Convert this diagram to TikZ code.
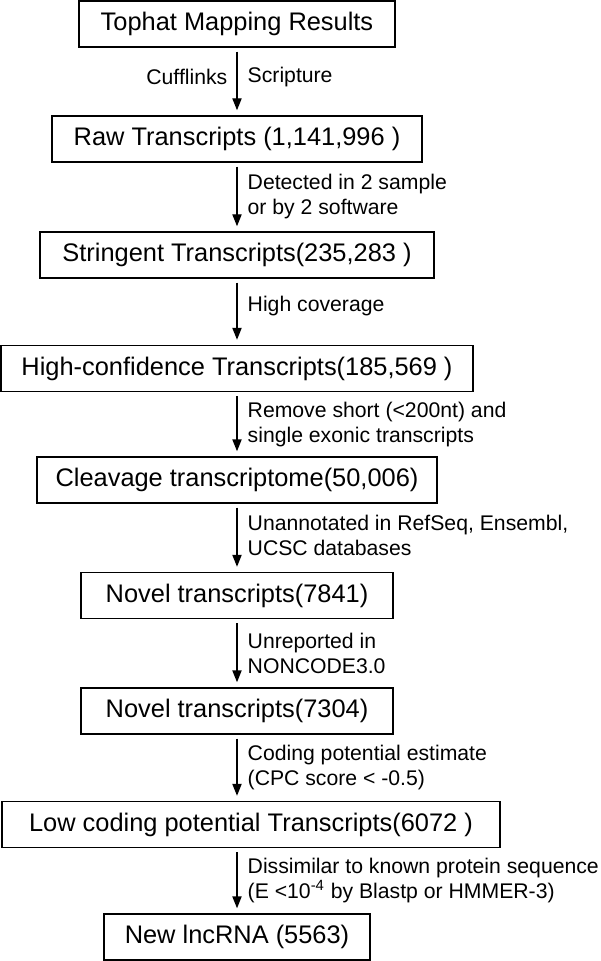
\documentclass[tikz,border=0pt]{standalone}
\usepackage{fontspec}
\setmainfont{Liberation Sans}
\usetikzlibrary{arrows.meta}

\begin{document}
\begin{tikzpicture}[x=0.5pt, y=-0.5pt,
    box/.style={draw, line width=0.7pt, minimum height=23pt, inner sep=0pt, font=\fontsize{12.7}{15}\selectfont},
    arr/.style={-{Triangle[length=6pt, width=4.6pt]}, line width=0.7pt, shorten <=2pt, shorten >=2.5pt},
    lbl/.style={anchor=west, xshift=5pt, inner sep=0pt, align=left, font=\fontsize{10.6}{12.5}\selectfont},
    lblleft/.style={anchor=east, xshift=-4.5pt, inner sep=0pt, font=\fontsize{10.6}{12.5}\selectfont}]
            \useasboundingbox (0,0) rectangle (600,961);

            \node[box, minimum width=158pt] (b1) at (237,24) {Tophat Mapping Results};
            \node[box, minimum width=185pt] (b2) at (237,139) {Raw Transcripts (1,141,996 )};
            \node[box, minimum width=197pt] (b3) at (237,255) {Stringent Transcripts(235,283 )};
            \node[box, minimum width=236pt] (b4) at (237,368.5) {High-confidence Transcripts(185,569 )};
            \node[box, minimum width=200pt] (b5) at (237,480) {Cleavage transcriptome(50,006)};
            \node[box, minimum width=156pt] (b6) at (237,595.5) {Novel transcripts(7841)};
            \node[box, minimum width=156pt] (b7) at (237,711) {Novel transcripts(7304)};
            \node[box, minimum width=249pt] (b8) at (251,824.5) {Low coding potential Transcripts(6072 )};
            \node[box, minimum width=133pt] (b9) at (237,937) {New lncRNA (5563)};

            \draw[arr] (b1.south) -- node[lbl, yshift=2.25pt]{Scripture} node[lblleft, yshift=2.25pt]{Cufflinks} (b1 |- b2.north);
            \draw[arr] (b2.south) -- node[lbl]{Detected in 2 sample\\or by 2 software} (b2 |- b3.north);
            \draw[arr] (b3.south) -- node[lbl, yshift=3pt]{High coverage} (b3 |- b4.north);
            \draw[arr] (b4.south) -- node[lbl]{Remove short (<200nt) and\\single exonic transcripts} (b4 |- b5.north);
            \draw[arr] (b5.south) -- node[lbl, yshift=1pt]{Unannotated in RefSeq, Ensembl,\\UCSC databases} (b5 |- b6.north);
            \draw[arr] (b6.south) -- node[lbl]{Unreported in\\NONCODE3.0} (b6 |- b7.north);
            \draw[arr] (b7.south) -- node[lbl]{Coding potential estimate\\(CPC score < -0.5)} (b7 |- b8.north);
            \draw[arr] (b9 |- b8.south) -- node[lbl]{Dissimilar to known protein sequence\\(E <10\textsuperscript{-4} by Blastp or HMMER-3)} (b9.north);
        \end{tikzpicture}
\end{document}
